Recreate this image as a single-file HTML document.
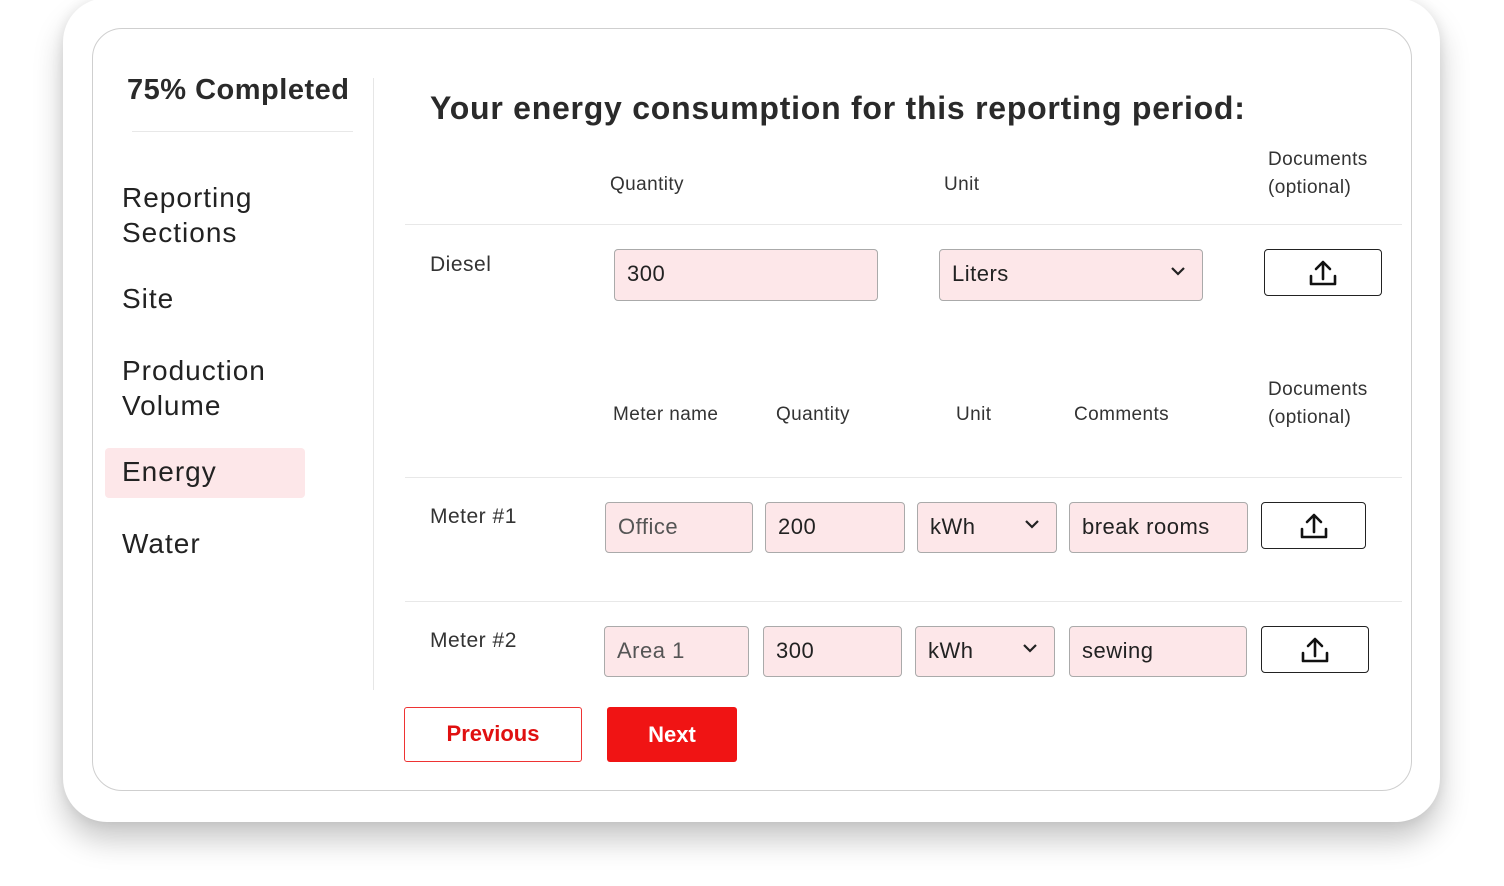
<!DOCTYPE html>
<html><head><style>
body{margin:0;width:1504px;height:886px;background:#fff;position:relative;overflow:hidden;font-family:"Liberation Sans",sans-serif;color:#222}
.a{position:absolute}
.outer{left:63px;top:-2px;width:1377px;height:824px;border-radius:44px;background:#fff;box-shadow:0 18px 30px rgba(0,0,0,.22),0 0 12px rgba(0,0,0,.08)}
.inner{left:92px;top:28px;width:1318px;height:761px;border:1.5px solid #cfcfcf;border-radius:30px;background:#fff}
.nav{font-size:28px;color:#222;line-height:35px;letter-spacing:1px}
.lbl{font-size:19px;color:#333;letter-spacing:0.4px}
.f{position:absolute;background:#fde7e9;border:1.5px solid #aaa;border-radius:4px;box-sizing:border-box;font-size:22px;color:#222;padding-left:12px;line-height:48px;letter-spacing:0.5px}
.up{position:absolute;border:1.5px solid #222;border-radius:4px;box-sizing:border-box;background:#fff}
.up svg{position:absolute;left:50%;top:50%;transform:translate(-50%,-50%)}
.hr{position:absolute;height:1px;background:#e8e8e8}
.chev{position:absolute;right:16px;top:16px}
</style></head><body>
<div class="a outer"></div>
<div class="a inner"></div>
<div class="a" style="left:127px;top:74px;font-size:29px;font-weight:bold;color:#2a2a2a;letter-spacing:0.5px">75% Completed</div>
<div class="hr" style="left:132px;top:131px;width:221px"></div>
<div class="a" style="left:373px;top:78px;width:1px;height:612px;background:#e6e6e6"></div>
<div class="a nav" style="left:122px;top:180px">Reporting<br>Sections</div>
<div class="a nav" style="left:122px;top:281px">Site</div>
<div class="a nav" style="left:122px;top:353px">Production<br>Volume</div>
<div class="a" style="left:105px;top:448px;width:200px;height:50px;background:#fde7e9;border-radius:4px"></div>
<div class="a nav" style="left:122px;top:454px">Energy</div>
<div class="a nav" style="left:122px;top:526px">Water</div>
<div class="a" style="left:430px;top:90px;font-size:32px;font-weight:bold;color:#2a2a2a;letter-spacing:0.75px">Your energy consumption for this reporting period:</div>
<div class="a lbl" style="left:610px;top:174px">Quantity</div>
<div class="a lbl" style="left:944px;top:174px">Unit</div>
<div class="a lbl" style="left:1268px;top:146px;line-height:28px">Documents<br>(optional)</div>
<div class="hr" style="left:405px;top:224px;width:997px"></div>
<div class="a" style="left:430px;top:253px;font-size:21px;color:#333;letter-spacing:0.5px">Diesel</div>
<div class="f" style="left:614px;top:249px;width:264px;height:52px">300</div>
<div class="f" style="left:939px;top:249px;width:264px;height:52px">Liters<svg class="chev" width="16" height="10" viewBox="0 0 16 10"><path d="M2 2l6 6 6-6" fill="none" stroke="#222" stroke-width="2.2"/></svg></div>
<div class="up" style="left:1264px;top:249px;width:118px;height:47px"><svg width="30" height="28" viewBox="0 0 30 28"><path d="M15 20V3M8 10l7-7 7 7M3 17v8h24v-8" fill="none" stroke="#111" stroke-width="2.6" stroke-linecap="round" stroke-linejoin="round"/></svg></div>
<div class="a lbl" style="left:613px;top:404px">Meter name</div>
<div class="a lbl" style="left:776px;top:404px">Quantity</div>
<div class="a lbl" style="left:956px;top:404px">Unit</div>
<div class="a lbl" style="left:1074px;top:404px">Comments</div>
<div class="a lbl" style="left:1268px;top:376px;line-height:28px">Documents<br>(optional)</div>
<div class="hr" style="left:405px;top:477px;width:997px"></div>
<div class="a" style="left:430px;top:505px;font-size:21px;color:#333;letter-spacing:0.5px">Meter #1</div>
<div class="f" style="left:605px;top:502px;width:148px;height:51px;color:#555">Office</div>
<div class="f" style="left:765px;top:502px;width:140px;height:51px">200</div>
<div class="f" style="left:917px;top:502px;width:140px;height:51px">kWh<svg class="chev" width="16" height="10" viewBox="0 0 16 10"><path d="M2 2l6 6 6-6" fill="none" stroke="#222" stroke-width="2.2"/></svg></div>
<div class="f" style="left:1069px;top:502px;width:179px;height:51px">break rooms</div>
<div class="up" style="left:1261px;top:502px;width:105px;height:47px"><svg width="30" height="28" viewBox="0 0 30 28"><path d="M15 20V3M8 10l7-7 7 7M3 17v8h24v-8" fill="none" stroke="#111" stroke-width="2.6" stroke-linecap="round" stroke-linejoin="round"/></svg></div>
<div class="hr" style="left:405px;top:601px;width:997px"></div>
<div class="a" style="left:430px;top:629px;font-size:21px;color:#333;letter-spacing:0.5px">Meter #2</div>
<div class="f" style="left:604px;top:626px;width:145px;height:51px;color:#555">Area 1</div>
<div class="f" style="left:763px;top:626px;width:139px;height:51px">300</div>
<div class="f" style="left:915px;top:626px;width:140px;height:51px">kWh<svg class="chev" width="16" height="10" viewBox="0 0 16 10"><path d="M2 2l6 6 6-6" fill="none" stroke="#222" stroke-width="2.2"/></svg></div>
<div class="f" style="left:1069px;top:626px;width:178px;height:51px">sewing</div>
<div class="up" style="left:1261px;top:626px;width:108px;height:47px"><svg width="30" height="28" viewBox="0 0 30 28"><path d="M15 20V3M8 10l7-7 7 7M3 17v8h24v-8" fill="none" stroke="#111" stroke-width="2.6" stroke-linecap="round" stroke-linejoin="round"/></svg></div>
<div class="a" style="left:404px;top:707px;width:178px;height:55px;box-sizing:border-box;border:1.5px solid #e33;border-radius:3px;color:#e01010;font-weight:bold;font-size:22px;text-align:center;line-height:52px">Previous</div>
<div class="a" style="left:607px;top:707px;width:130px;height:55px;background:#f01414;border-radius:3px;color:#fff;font-weight:bold;font-size:22px;text-align:center;line-height:55px">Next</div>
</body></html>
